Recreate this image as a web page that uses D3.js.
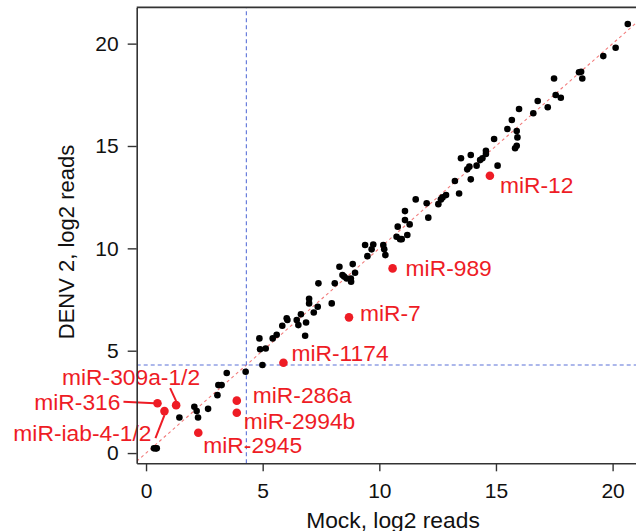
<!DOCTYPE html>
<html>
<head>
<meta charset="utf-8">
<script src="https://cdn.jsdelivr.net/npm/d3@7"></script>
<style>
  body { margin: 0; background: #fff; }
  svg { display: block; font-family: "Liberation Sans", Arial, sans-serif; }
</style>
</head>
<body>
<svg id="chart" width="636" height="531"></svg>
<script>
"use strict";

// log2 reads, mock (x) vs DENV 2 (y), miRNAs without a label
var otherMirs = [
    [0.34, 0.23], [0.42, 0.23], [0.46, 0.23],
    [1.43, 1.74], [2.07, 2.26], [2.17, 2.05], [2.23, 1.74], [2.66, 2.16],
    [3.06, 2.83], [3.10, 3.32], [3.24, 3.32], [3.46, 3.91], [4.27, 3.97],
    [4.99, 4.30], [4.89, 5.07], [5.13, 5.11], [4.86, 5.60], [5.43, 5.60], [5.60, 5.78],
    [6.82, 5.73], [5.84, 6.22], [6.03, 6.58], [6.06, 6.50], [6.46, 6.50], [6.53, 6.25],
    [6.64, 6.78], [6.86, 6.38], [7.19, 6.87], [7.36, 7.15], [6.99, 7.54], [6.99, 7.31],
    [7.39, 8.29], [7.96, 7.31], [8.09, 8.29], [8.29, 9.10], [8.42, 8.70], [8.49, 8.62],
    [8.60, 8.53], [8.78, 8.53], [8.79, 8.37], [8.86, 9.23], [8.96, 8.81],
    [9.39, 10.16], [9.49, 9.62], [9.67, 9.95], [9.74, 10.19], [10.17, 10.16], [10.21, 9.95], [10.26, 9.67],
    [10.74, 10.57], [10.89, 10.45], [10.96, 10.45], [11.20, 10.65], [11.30, 11.17], [11.10, 11.38],
    [11.10, 11.82], [10.79, 11.06],
    [11.56, 12.39], [12.03, 12.20], [12.10, 11.50],
    [12.53, 12.16], [12.64, 12.39], [12.71, 12.49], [12.86, 12.60],
    [13.24, 13.29], [13.42, 12.68], [13.50, 14.40], [13.77, 13.86], [13.86, 13.99], [13.92, 14.56], [13.92, 13.37],
    [14.17, 14.04], [14.32, 14.31], [14.42, 14.40], [14.57, 14.61], [14.57, 14.77], [15.07, 14.04],
    [14.92, 15.34], [15.49, 15.83], [15.68, 16.27], [15.89, 15.73], [15.92, 15.42], [15.89, 15.01], [15.82, 14.89],
    [15.99, 16.81], [16.60, 16.60], [16.79, 17.20], [17.22, 16.89], [17.49, 18.30], [17.56, 17.49], [17.78, 17.36],
    [18.56, 18.60], [18.65, 18.63], [18.70, 18.30], [19.60, 19.39], [20.13, 19.80], [20.65, 20.96]
]

// labelled miRNAs
var mirNames = ["miR-12", "miR-989", "miR-7", "miR-1174", "miR-286a", "miR-2994b",
    "miR-2945", "miR-309a-1/2", "miR-316", "miR-iab-4-1/2"]
var mirMock = [14.74, 10.57, 8.70, 5.89, 3.89, 3.89, 2.24, 1.29, 0.49, 0.79]
var mirDenv = [13.55, 9.02, 6.63, 4.41, 2.56, 1.97, 0.99, 2.34, 2.43, 2.05]

var xTicks = [0, 5, 10, 15, 20]
var yTicks = [0, 5, 10, 15, 20]
var threshold = 4.3

// label placement (pixels from the point)
var labelPos = {
    "miR-12": { dx: 10, dy: 17, anchor: "start" },
    "miR-989": { dx: 13, dy: 8, anchor: "start" },
    "miR-7": { dx: 11, dy: 4, anchor: "start" },
    "miR-1174": { dx: 8, dy: -2, anchor: "start" },
    "miR-286a": { dx: 16, dy: 2.5, anchor: "start" },
    "miR-2994b": { dx: 7, dy: 16.5, anchor: "start" },
    "miR-2945": { dx: 5, dy: 20, anchor: "start" },
    "miR-309a-1/2": { dx: 24, dy: -20, anchor: "end", lead: [-6, -17, 0, -4] },
    "miR-316": { dx: -37, dy: 6.7, anchor: "end", lead: [-34, -1.5, -3, 0] },
    "miR-iab-4-1/2": { dx: -13, dy: 30, anchor: "end", lead: [-9, 27, 0, 4] }
}

var red = "#ee1c25"
var svg = d3.select("#chart")

var xMin = -0.4, xMax = 21.5, yMin = -0.5, yMax = 21.77
var x = d3.scaleLinear().domain([xMin, xMax]).range([136.7, 647.6])
var y = d3.scaleLinear().domain([yMin, yMax]).range([463.3, 7.4])

svg.append("clipPath").attr("id", "plotclip")
    .append("rect")
    .attr("x", x(xMin)).attr("y", y(yMax))
    .attr("width", x(xMax) - x(xMin)).attr("height", y(yMin) - y(yMax))

var plot = svg.append("g").attr("clip-path", "url(#plotclip)")

// y = x reference line
plot.append("line")
    .attr("x1", x(xMin)).attr("y1", y(xMin))
    .attr("x2", x(xMax)).attr("y2", y(xMax))
    .attr("stroke", "#f27a7a").attr("stroke-width", 1.1)
    .attr("stroke-dasharray", "3,3")

// threshold lines
plot.append("line")
    .attr("x1", x(threshold)).attr("x2", x(threshold))
    .attr("y1", y(yMin)).attr("y2", y(yMax))
    .attr("stroke", "#5a70d8").attr("stroke-width", 1.1)
    .attr("stroke-dasharray", "4,3")
plot.append("line")
    .attr("x1", x(xMin)).attr("x2", x(xMax))
    .attr("y1", y(threshold)).attr("y2", y(threshold))
    .attr("stroke", "#5a70d8").attr("stroke-width", 1.1)
    .attr("stroke-dasharray", "4,3")

plot.selectAll(".dot")
    .data(otherMirs)
    .enter().append("circle")
    .attr("class", "dot")
    .attr("cx", d => x(d[0]))
    .attr("cy", d => y(d[1]))
    .attr("r", 3.3)
    .attr("fill", "#000")

var highlighted = mirNames.map((n, i) => ({ name: n, mock: mirMock[i], denv: mirDenv[i] }))

plot.selectAll(".hit")
    .data(highlighted)
    .enter().append("circle")
    .attr("class", "hit")
    .attr("cx", d => x(d.mock))
    .attr("cy", d => y(d.denv))
    .attr("r", 4.3)
    .attr("fill", red)

// leader lines
svg.selectAll(".lead")
    .data(highlighted.filter(d => labelPos[d.name].lead))
    .enter().append("line")
    .attr("class", "lead")
    .attr("x1", d => x(d.mock) + labelPos[d.name].lead[0])
    .attr("y1", d => y(d.denv) + labelPos[d.name].lead[1])
    .attr("x2", d => x(d.mock) + labelPos[d.name].lead[2])
    .attr("y2", d => y(d.denv) + labelPos[d.name].lead[3])
    .attr("stroke", red).attr("stroke-width", 2)

svg.selectAll(".lbl")
    .data(highlighted)
    .enter().append("text")
    .attr("class", "lbl")
    .attr("x", d => x(d.mock) + labelPos[d.name].dx)
    .attr("y", d => y(d.denv) + labelPos[d.name].dy)
    .attr("text-anchor", d => labelPos[d.name].anchor)
    .attr("fill", red)
    .style("font-size", "22.8px")
    .text(d => d.name)

// axes
var xAxis = svg.append("g")
    .attr("transform", "translate(0," + y(yMin) + ")")
    .call(d3.axisBottom(x).tickValues(xTicks).tickSize(8).tickPadding(12).tickSizeOuter(0))
var yAxis = svg.append("g")
    .attr("transform", "translate(" + x(xMin) + ",0)")
    .call(d3.axisLeft(y).tickValues(yTicks).tickSize(9).tickPadding(9).tickSizeOuter(0))

;[xAxis, yAxis].forEach(function (ax) {
    ax.select(".domain").attr("stroke", "#333").attr("stroke-width", 1.6)
    ax.selectAll(".tick line").attr("stroke", "#333").attr("stroke-width", 1.4)
    ax.selectAll(".tick text").attr("fill", "#111")
        .style("font-size", "21px").style("font-family", "Liberation Sans, Arial, sans-serif")
})

// top frame line
svg.append("line")
    .attr("x1", x(xMin)).attr("x2", x(xMax))
    .attr("y1", y(yMax)).attr("y2", y(yMax))
    .attr("stroke", "#333").attr("stroke-width", 1.6)

svg.append("text")
    .attr("x", 393).attr("y", 528)
    .attr("text-anchor", "middle")
    .attr("fill", "#111")
    .style("font-size", "22.8px")
    .text("Mock, log2 reads")

svg.append("text")
    .attr("transform", "translate(74,242) rotate(-90)")
    .attr("text-anchor", "middle")
    .attr("fill", "#111")
    .style("font-size", "22px")
    .text("DENV 2, log2 reads")
</script>
</body>
</html>
